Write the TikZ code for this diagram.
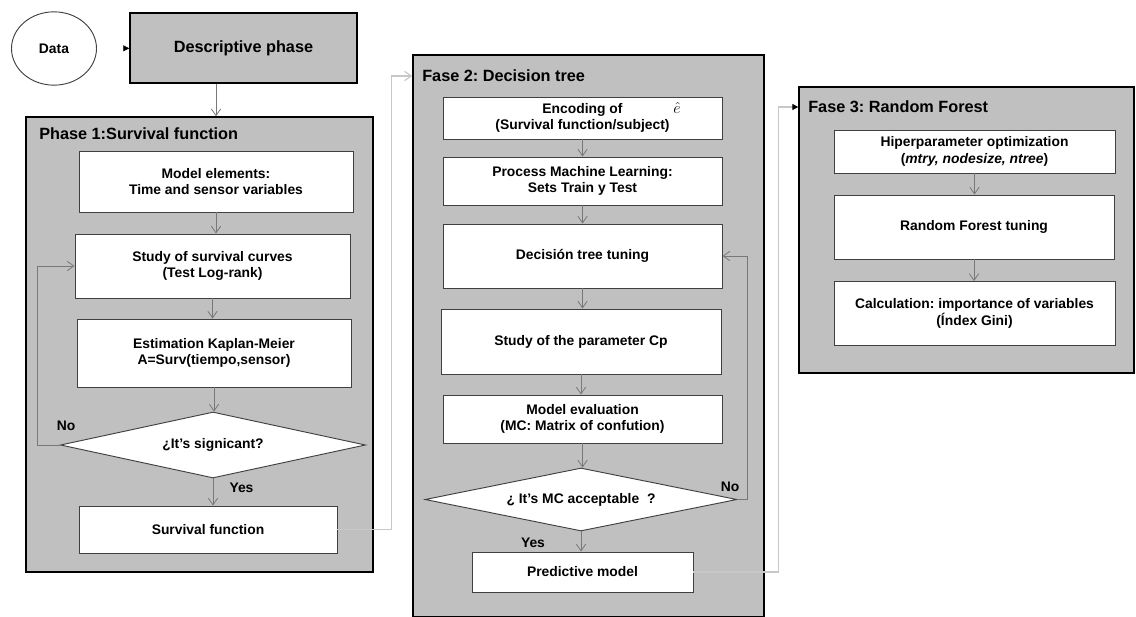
\documentclass[tikz,border=0pt]{standalone}
\usepackage{fontspec}
\setmainfont{Liberation Sans}
\usetikzlibrary{shapes.geometric,arrows.meta}
\definecolor{panelgray}{RGB}{192,192,192}
\definecolor{edgegray}{RGB}{64,64,64}
\definecolor{linkgray}{RGB}{120,120,120}
\definecolor{fargray}{RGB}{200,200,200}
\begin{document}
\frenchspacing
\begin{tikzpicture}[x=0.75pt,y=-0.75pt,
  every node/.style={font=\fontsize{10.4}{12.5}\selectfont\bfseries},
  >={Straight Barb[length=5pt,width=7pt]},
  panel/.style={draw=black,line width=1.1pt,fill=panelgray,inner sep=0pt},
  box/.style={draw=edgegray,line width=0.7pt,fill=white,align=center,inner sep=0pt},
  query/.style={diamond,draw=edgegray,line width=0.7pt,fill=white,inner sep=0pt,aspect=4.6},
  heading/.style={anchor=west,inner sep=0pt,font=\fontsize{12.2}{14}\selectfont\bfseries},
  link/.style={->,draw=linkgray,line width=0.6pt},
  farlink/.style={draw=fargray,line width=0.9pt},
  blackhead/.style={-{Triangle[length=4.5pt,width=4.5pt,color=black]}}]
\useasboundingbox (0,0) rectangle (1136,617);
% Start
\node[ellipse,draw=edgegray,line width=0.7pt,fill=white,minimum width=63.75pt,minimum height=55pt,inner sep=0pt] (data) at (54,48.5) {Data};
\node[panel,minimum width=170.25pt,minimum height=52.5pt,font=\fontsize{12.2}{14}\selectfont\bfseries] (desc) at (243.5,48) {Descriptive phase};
\draw[draw=white,blackhead] (data) -- (desc);
% Phase 1
\node[panel,minimum width=260.25pt,minimum height=341.25pt] (phase1) at (199.5,344.5) {};
\node[heading] (t1) at (39,134) {Phase 1:Survival function};
\node[box,minimum width=205.5pt,minimum height=45.75pt] (elem) at (216,181.5) {Model elements:\\Time and sensor variables};
\node[box,minimum width=206.25pt,minimum height=48pt] (curves) at (212.5,266) {Study of survival curves\\(Test Log-rank)};
\node[box,minimum width=205.5pt,minimum height=51pt] (km) at (214,353) {Estimation Kaplan-Meier\\A=Surv(tiempo,sensor)};
\node[query,minimum width=228.75pt,minimum height=49.5pt] (signif) at (213,445) {¿It’s signicant?};
\node[box,minimum width=193.5pt,minimum height=35.25pt] (survf) at (208,529.5) {Survival function};
\node (no1) at (66,426) {No};
\node (yes1) at (241.5,488) {Yes};
\draw[link] (desc.south -| elem) -- (elem |- phase1.north);
\draw[link] (elem.south) -- (elem.south |- curves.north);
\draw[link] (curves.south) -- (curves.south |- km.north);
\draw[link] (km.south) -- (km.south |- signif.north);
\draw[link] (signif.south) -- (signif.south |- survf.north);
\draw[link] (signif.west) -- ++(-23,0) |- (curves.west);
% Phase 2
\node[panel,minimum width=263.25pt,minimum height=421.5pt] (phase2) at (588.5,336) {};
\node[heading] (t2) at (422,76) {Fase 2: Decision tree};
\node[box,minimum width=209.25pt,minimum height=31.5pt] (enc) at (582.5,118) {Encoding of\\(Survival function/subject)};
\node[font=\fontsize{12}{14}\selectfont] (ehat) at (677,108) {$\hat{e}$};
\node[box,minimum width=209.25pt,minimum height=36pt] (split) at (582.5,181) {Process Machine Learning:\\Sets Train y Test};
\node[box,minimum width=209.25pt,minimum height=48pt] (dtune) at (582.5,256) {Decisión tree tuning};
\node[box,minimum width=210pt,minimum height=48.75pt] (cp) at (581,341.5) {Study of the parameter Cp};
\node[box,minimum width=209.25pt,minimum height=36pt] (evalm) at (582.5,419) {Model evaluation\\(MC: Matrix of confution)};
\node[query,minimum width=234pt,minimum height=47.25pt] (accept) at (581,499.5) {¿ It’s MC acceptable\ \ ?};
\node[box,minimum width=165.75pt,minimum height=30pt] (pred) at (582.5,572) {Predictive model};
\node (no2) at (730,487) {No};
\node (yes2) at (533,543) {Yes};
\draw[link] (enc.south) -- (enc.south |- split.north);
\draw[link] (split.south) -- (split.south |- dtune.north);
\draw[link] (dtune.south) -- (dtune.south |- cp.north);
\draw[link] (cp.south) -- (cp.south |- evalm.north);
\draw[link] (evalm.south) -- (evalm.south |- accept.north);
\draw[link] (accept.south) -- (accept.south |- pred.north);
\draw[link] (accept.east) -- ++(10,0) |- (dtune.east);
% Phase 3
\node[panel,minimum width=251.25pt,minimum height=214.5pt] (phase3) at (966.5,230) {};
\node[heading] (t3) at (808,107) {Fase 3: Random Forest};
\node[box,minimum width=210.75pt,minimum height=32.25pt] (hyper) at (974.5,151.5) {Hiperparameter optimization\\(\textit{mtry, nodesize, ntree})};
\node[box,minimum width=210pt,minimum height=48pt] (rftune) at (974,227) {Random Forest tuning};
\node[box,minimum width=210.75pt,minimum height=48pt] (gini) at (974.5,313.5) {Calculation: importance of variables\\(Índex Gini)};
\draw[link] (hyper.south) -- (hyper.south |- rftune.north);
\draw[link] (rftune.south) -- (rftune.south |- gini.north);
% Between phases
\draw[farlink,->] (survf.east) -- ++(54,0) |- (phase2.west |- t2.west);
\draw[farlink,blackhead] (pred.east) -- ++(85,0) |- (phase3.west |- t3.west);
\end{tikzpicture}
\end{document}
